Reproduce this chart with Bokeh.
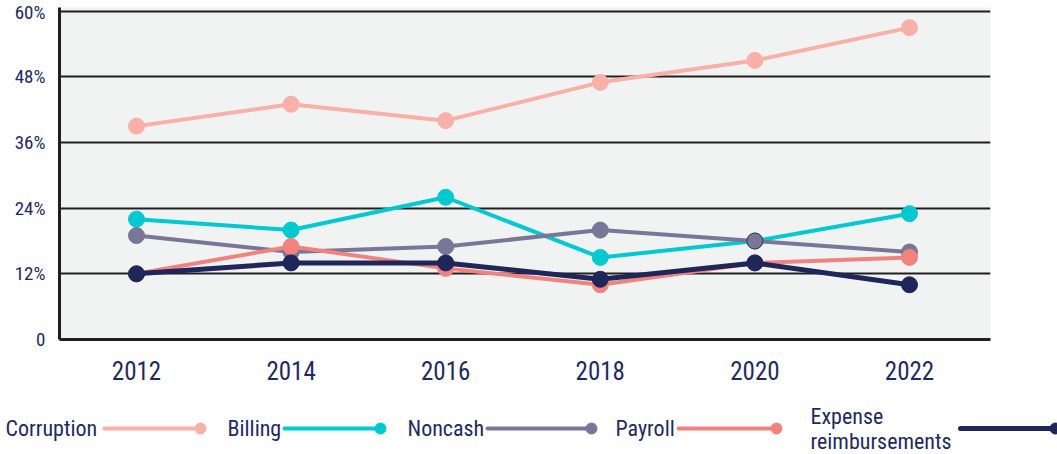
from bokeh.plotting import figure
from bokeh.layouts import column, row
from bokeh.models import Range1d, FixedTicker
from bokeh.core.properties import value
from bokeh.embed import file_html
from bokeh.resources import INLINE

years = [2012, 2014, 2016, 2018, 2020, 2022]
corruption = [39, 43, 40, 47, 51, 57]
billing = [22, 20, 26, 15, 18, 23]
noncash = [19, 16, 17, 20, 18, 16]
payroll = [12, 17, 13, 10, 14, 15]
expense = [12, 14, 14, 11, 14, 10]

series_names = ["Corruption", "Billing", "Noncash", "Payroll", "Expense\nreimbursements"]
series_colors = ["#F8B0A9", "#00C9D1", "#7A7698", "#F0837E", "#1F2659"]
y_ticks = [0, 12, 24, 36, 48, 60]
y_tick_labels = ["0", "12%", "24%", "36%", "48%", "60%"]

NAVY = "#1F2A5E"
FONT = "Roboto Condensed, DejaVu Sans Condensed, Roboto"

p = figure(width=1057, height=395, output_backend="svg", toolbar_location=None,
           x_range=Range1d(2011.004, 2023.048), y_range=Range1d(0, 60.68),
           min_border_left=59, min_border_right=67, min_border_top=7, min_border_bottom=56)
p.background_fill_color = "#F1F2F2"
p.border_fill_color = "white"
p.outline_line_color = None

p.xgrid.grid_line_color = None
p.ygrid.grid_line_color = "#231F20"
p.ygrid.grid_line_width = 2
p.ygrid.ticker = FixedTicker(ticks=y_ticks)

p.yaxis.ticker = FixedTicker(ticks=y_ticks)
p.yaxis.major_label_overrides = {t: l for t, l in zip(y_ticks, y_tick_labels)}
p.yaxis.axis_line_color = "#231F20"
p.yaxis.axis_line_width = 3
p.yaxis.major_tick_line_color = None
p.yaxis.minor_tick_line_color = None
p.yaxis.major_label_text_font = FONT
p.yaxis.major_label_text_font_size = "19px"
p.yaxis.major_label_text_color = NAVY
p.yaxis.major_label_standoff = 8

p.xaxis.ticker = FixedTicker(ticks=years)
p.xaxis.axis_line_color = "#231F20"
p.xaxis.axis_line_width = 3
p.xaxis.major_tick_line_color = None
p.xaxis.minor_tick_line_color = None
p.xaxis.major_label_text_font = FONT
p.xaxis.major_label_text_font_size = "25px"
p.xaxis.major_label_text_color = NAVY
p.xaxis.major_label_standoff = 15

all_series = [corruption, billing, noncash, payroll, expense]
widths = [4, 4, 4, 4, 5]
for vals, col, w in zip(all_series, series_colors, widths):
    p.line(years, vals, line_color=col, line_width=w)
    if vals is noncash:
        lc = [col] * len(years)
        lc[4] = "#3A3A48"
        p.scatter(years, vals, size=16, fill_color=col, line_color=lc, line_width=1)
    else:
        p.scatter(years, vals, size=16, fill_color=col, line_color=col)

# legend strip (coordinates in pixels of the strip)
leg = figure(width=1057, height=59, output_backend="svg", toolbar_location=None,
             x_range=Range1d(0, 1057), y_range=Range1d(59, 0),
             x_axis_location=None, y_axis_location=None,
             min_border=0, min_border_left=0, min_border_right=0,
             min_border_top=0, min_border_bottom=0)
leg.grid.visible = False
leg.outline_line_color = None
leg.background_fill_color = "white"
leg.border_fill_color = "white"

text_x = [5, 227, 407, 615, 810]
line_x0 = [104, 284, 487, 678, 960]
line_x1 = [200, 380, 591, 776, 1055]
ly = 33
for i, (name, col) in enumerate(zip(series_names, series_colors)):
    if "\n" in name:
        a, b = name.split("\n")
        leg.text([text_x[i]], [21], text=[a], text_font=value(FONT), text_font_size="22px",
                 text_color=NAVY, text_align="left", text_baseline="middle")
        leg.text([text_x[i]], [46], text=[b], text_font=value(FONT), text_font_size="22px",
                 text_color=NAVY, text_align="left", text_baseline="middle")
    else:
        leg.text([text_x[i]], [ly], text=[name], text_font=value(FONT), text_font_size="22px",
                 text_color=NAVY, text_align="left", text_baseline="middle")
    leg.segment([line_x0[i]], [ly], [line_x1[i]], [ly], line_color=col,
                line_width=5 if i == 4 else 4, line_cap="round")
    leg.scatter([line_x1[i]], [ly], size=11, fill_color=col, line_color=col)

layout = column(p, row(leg), spacing=0)
open("out.html", "w").write(file_html(layout, INLINE))
